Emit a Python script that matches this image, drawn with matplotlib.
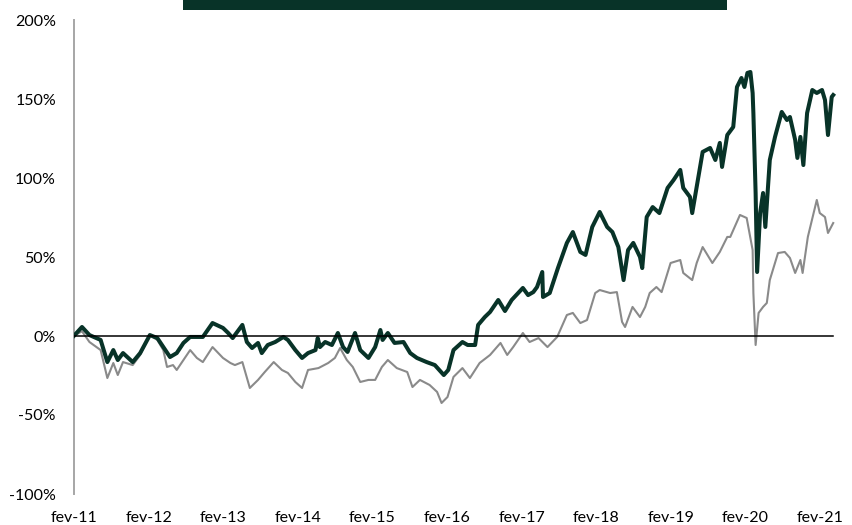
import matplotlib
matplotlib.use("Agg")
import matplotlib.pyplot as plt
from matplotlib.patches import Rectangle

# Decimal-year dates and cumulative returns (%)
fund_dates = [2011.08, 2011.19, 2011.29, 2011.44, 2011.53, 2011.61, 2011.67, 2011.74, 2011.87, 2011.97,
              2012.10, 2012.20, 2012.28, 2012.37, 2012.46, 2012.55, 2012.64, 2012.81, 2012.94, 2013.08,
              2013.15, 2013.21, 2013.34, 2013.40, 2013.47, 2013.55, 2013.60, 2013.68, 2013.78, 2013.89,
              2013.95, 2014.05, 2014.14, 2014.22, 2014.32, 2014.35, 2014.38, 2014.45, 2014.54, 2014.62,
              2014.69, 2014.75, 2014.85, 2014.92, 2015.03, 2015.12, 2015.19, 2015.22, 2015.29, 2015.38,
              2015.50, 2015.59, 2015.68, 2015.81, 2015.92, 2016.04, 2016.10, 2016.17, 2016.29, 2016.36,
              2016.46, 2016.50, 2016.59, 2016.66, 2016.77, 2016.86, 2016.95, 2017.10, 2017.17, 2017.24,
              2017.29, 2017.36, 2017.37, 2017.46, 2017.57, 2017.69, 2017.77, 2017.87, 2017.94, 2018.03,
              2018.13, 2018.23, 2018.30, 2018.38, 2018.45, 2018.51, 2018.58, 2018.67, 2018.70, 2018.76,
              2018.84, 2018.93, 2019.04, 2019.12, 2019.21, 2019.25, 2019.34, 2019.37, 2019.43, 2019.51,
              2019.61, 2019.68, 2019.74, 2019.77, 2019.84, 2019.92, 2019.97, 2020.03, 2020.07, 2020.11,
              2020.15, 2020.18, 2020.19, 2020.22, 2020.24, 2020.28, 2020.32, 2020.35, 2020.41, 2020.48,
              2020.57, 2020.64, 2020.68, 2020.75, 2020.78, 2020.82, 2020.86, 2020.91, 2020.98, 2021.04,
              2021.11, 2021.15, 2021.19, 2021.24, 2021.26]
fund_values = [0.0, 5.7, 0.6, -2.5, -16.5, -8.9, -15.2, -10.8, -16.5, -10.8,
               0.6, -1.3, -7.0, -13.3, -10.8, -4.4, -0.6, -0.6, 8.2, 5.1,
               1.9, -1.3, 7.0, -3.8, -7.6, -4.4, -10.8, -5.7, -3.8, -0.6,
               -2.5, -8.9, -13.9, -10.8, -8.9, -1.3, -7.0, -3.8, -5.7, 1.9,
               -7.0, -10.1, 1.9, -8.9, -13.9, -7.0, 3.8, -2.5, 1.9, -4.4,
               -3.8, -10.8, -13.9, -16.5, -18.4, -24.7, -21.5, -8.9, -3.8, -5.7,
               -5.7, 7.0, 12.0, 15.2, 22.8, 15.8, 22.8, 30.4, 25.9, 27.8,
               31.0, 40.5, 24.7, 27.2, 43.0, 58.9, 65.8, 53.2, 51.3, 69.0,
               78.5, 69.0, 65.8, 56.3, 35.4, 54.4, 58.9, 50.0, 43.0, 75.3,
               81.6, 77.8, 93.7, 98.7, 105.1, 93.7, 88.0, 77.8, 94.3, 116.5,
               119.0, 111.4, 122.2, 107.0, 127.2, 132.3, 157.6, 163.3, 157.6, 166.5,
               167.1, 153.8, 141.1, 90.5, 40.5, 77.8, 90.5, 69.0, 111.4, 126.0,
               141.8, 136.7, 138.6, 124.1, 112.7, 126.0, 108.2, 141.1, 155.7, 153.8,
               155.7, 149.4, 127.2, 151.3, 152.5]

bench_dates = [2011.08, 2011.19, 2011.29, 2011.44, 2011.53, 2011.61, 2011.67, 2011.74, 2011.87, 2011.97,
               2012.10, 2012.20, 2012.28, 2012.33, 2012.41, 2012.46, 2012.55, 2012.64, 2012.73, 2012.81,
               2012.94, 2013.08, 2013.18, 2013.24, 2013.34, 2013.44, 2013.55, 2013.64, 2013.76, 2013.87,
               2013.95, 2014.05, 2014.14, 2014.22, 2014.36, 2014.49, 2014.58, 2014.65, 2014.74, 2014.82,
               2014.92, 2015.03, 2015.12, 2015.21, 2015.29, 2015.41, 2015.55, 2015.62, 2015.72, 2015.85,
               2015.95, 2016.01, 2016.09, 2016.17, 2016.29, 2016.39, 2016.52, 2016.66, 2016.80, 2016.89,
               2016.97, 2017.10, 2017.19, 2017.31, 2017.43, 2017.56, 2017.69, 2017.77, 2017.87, 2017.96,
               2018.07, 2018.13, 2018.27, 2018.36, 2018.43, 2018.47, 2018.54, 2018.57, 2018.67, 2018.74,
               2018.80, 2018.89, 2018.96, 2019.08, 2019.21, 2019.25, 2019.37, 2019.43, 2019.51, 2019.64,
               2019.74, 2019.84, 2019.88, 2020.01, 2020.10, 2020.18, 2020.19, 2020.22, 2020.26, 2020.32,
               2020.37, 2020.41, 2020.52, 2020.61, 2020.68, 2020.75, 2020.82, 2020.85, 2020.92, 2021.04,
               2021.08, 2021.15, 2021.19, 2021.26]
bench_values = [0.0, 3.0, -3.8, -8.9, -26.6, -17.1, -24.7, -16.5, -18.4, -12.0,
                0.6, -2.5, -8.9, -19.6, -18.4, -21.5, -15.2, -8.9, -13.9, -16.5,
                -7.0, -13.9, -17.1, -18.4, -16.5, -32.9, -27.8, -22.8, -16.5, -21.5,
                -23.4, -29.1, -32.9, -21.5, -20.3, -17.1, -13.9, -7.6, -15.2, -19.6,
                -29.1, -27.8, -27.8, -19.6, -15.2, -20.3, -22.8, -32.3, -27.8, -31.0,
                -35.4, -42.4, -38.6, -25.9, -20.3, -26.6, -17.1, -12.0, -4.4, -12.0,
                -7.0, 1.9, -3.8, -1.3, -7.0, -0.6, 13.3, 14.6, 8.2, 10.1,
                27.2, 29.1, 27.2, 27.8, 8.9, 5.7, 14.6, 18.4, 12.0, 18.4,
                27.2, 31.0, 27.8, 46.2, 48.1, 39.9, 35.4, 46.2, 56.3, 46.2,
                53.2, 62.7, 62.7, 76.6, 74.7, 54.4, 27.2, -5.7, 14.6, 18.4,
                20.9, 35.4, 52.5, 53.2, 49.4, 39.9, 48.1, 39.9, 62.7, 86.1,
                77.8, 75.3, 65.2, 71.5]

tick_years = [2011, 2012, 2013, 2014, 2015, 2016, 2017, 2018, 2019, 2020, 2021]
tick_labels = ["fev-11", "fev-12", "fev-13", "fev-14", "fev-15", "fev-16",
               "fev-17", "fev-18", "fev-19", "fev-20", "fev-21"]
y_ticks = [-100, -50, 0, 50, 100, 150, 200]

GREEN = "#083328"
GRAY = "#8a8a8a"

plt.rcParams["font.family"] = ["Lato", "DejaVu Sans"]

fig = plt.figure(figsize=(8.53, 5.25), dpi=100)
ax = fig.add_axes([74 / 853, 1 - 494 / 525, (842 - 74) / 853, (494 - 20) / 525])

ax.plot(bench_dates, bench_values, color=GRAY, lw=1.5, zorder=2, solid_joinstyle="round")
ax.plot(fund_dates, fund_values, color=GREEN, lw=2.9, zorder=3, solid_joinstyle="round")
ax.plot([fund_dates[0], fund_dates[-1]], [0, 0], color="black", lw=1.1, zorder=4)

ax.set_ylim(-100, 200)
ax.set_xlim(2011.083, 2011.083 + (842 - 74) / 74.6)
ax.set_yticks(y_ticks)
ax.set_yticklabels([f"{v}%" for v in y_ticks])
ax.set_xticks([y + 1 / 12 for y in tick_years])
ax.set_xticklabels(tick_labels)

for s in ["top", "right", "bottom"]:
    ax.spines[s].set_visible(False)
ax.spines["left"].set_color("#a6a6a6")
ax.spines["left"].set_linewidth(1.4)
ax.tick_params(axis="both", length=0, labelsize=11.5, colors="black")
ax.tick_params(axis="y", pad=13)
ax.tick_params(axis="x", pad=12)

fig.patches.append(Rectangle((183 / 853, 1 - 10 / 525), (727 - 183) / 853, 10 / 525,
                             transform=fig.transFigure, facecolor=GREEN, edgecolor="none"))

fig.savefig("out.png", dpi=100)
